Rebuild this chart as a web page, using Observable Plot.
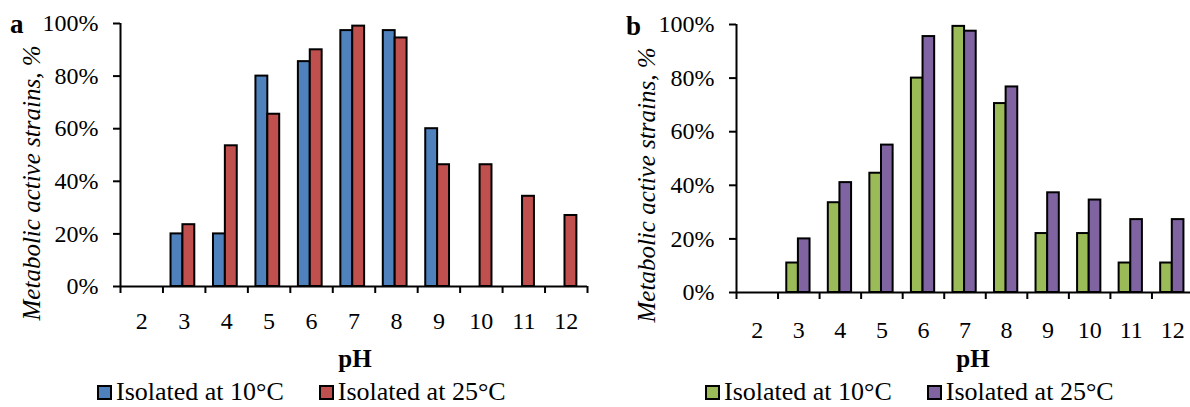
<!DOCTYPE html>
<html><head><meta charset="utf-8">
<script src="https://cdn.jsdelivr.net/npm/d3@7"></script>
<script src="https://cdn.jsdelivr.net/npm/@observablehq/plot@0.6"></script>
<style>
body{margin:0;width:1190px;height:407px;overflow:hidden;position:relative;background:#fff;font-family:"Liberation Serif","Times New Roman",serif;color:#000}
.abs{position:absolute;white-space:nowrap;line-height:1}
.panel{position:absolute;top:0}
.panel svg text{font-family:"Liberation Serif","Times New Roman",serif !important;font-size:24px !important;fill:#000}
.ytitle{font-style:italic;font-size:25px;transform:translate(-50%,-50%) rotate(-90deg)}
.tag{font-weight:bold;font-size:27px}
.xtitle{font-weight:bold;font-size:25px;transform:translateX(-50%)}
.legend{font-size:26px;display:flex;align-items:center}
.legend .item{display:flex;align-items:center;margin-right:35px}
.legend .sw{width:11px;height:11px;border:2px solid #000;margin-right:4px}
</style></head><body>
<script>
// Data
const pH = [2, 3, 4, 5, 6, 7, 8, 9, 10, 11, 12];
const yTicks = [0, 20, 40, 60, 80, 100];
const seriesNames = ["Isolated at 10°C", "Isolated at 25°C"];
const a10 = [0, 20, 20, 80, 85.5, 97.3, 97.3, 60, 0, 0, 0];
const a25 = [0, 23.5, 53.5, 65.5, 90, 99, 94.5, 46.3, 46.3, 34.3, 27];
const b10 = [0, 11, 33.5, 44.5, 80, 99.3, 70.5, 22, 22, 11, 11];
const b25 = [0, 20, 41, 55, 95.5, 97.5, 76.7, 37.2, 34.5, 27.2, 27.2];
const colorsA = ["#4F81BD", "#C0504D"];
const colorsB = ["#9BBB59", "#8064A2"];
const yTitle = "Metabolic active strains, %";
const xTitle = "pH";

function rows(vals) {
  return pH.map((p, i) => ({pH: p, v: vals[i]})).filter(d => d.v > 0);
}

function makePanel(o) {
  const div = document.createElement("div");
  div.className = "panel";
  div.style.left = o.left + "px";
  div.style.width = o.width + "px";
  const chart = Plot.plot({
    width: o.width, height: o.height,
    marginLeft: o.mL, marginRight: o.mR, marginTop: o.mT, marginBottom: o.mB,
    x: {domain: [1.5, 12.5], axis: null},
    y: {domain: [0, 100], axis: null},
    style: {fontFamily: '"Liberation Serif","Times New Roman",serif', fontSize: "24px", color: "black", background: "transparent", maxWidth: "none"},
    marks: [
      Plot.rect(rows(o.s1), {x1: d => d.pH + o.off - o.w, x2: d => d.pH + o.off, y1: 0, y2: "v", fill: o.colors[0], stroke: "black", strokeWidth: 2}),
      Plot.rect(rows(o.s2), {x1: d => d.pH + o.off, x2: d => d.pH + o.off + o.w, y1: 0, y2: "v", fill: o.colors[1], stroke: "black", strokeWidth: 2}),
      Plot.axisY({ticks: yTicks, tickFormat: d => d + "%", tickSize: 7, tickPadding: 15, strokeWidth: 2, fontSize: 24, label: null}),
      Plot.axisX({ticks: pH, tickSize: 0, tickPadding: o.xPad, fontSize: 24, label: null}),
      Plot.axisX({ticks: pH.map(p => p - 0.5).concat([12.5]), tickSize: 7, tickFormat: () => "", strokeWidth: 2, label: null}),
      Plot.ruleX([1.5], {strokeWidth: 2}),
      Plot.ruleY([0], {strokeWidth: 2})
    ]
  });
  div.appendChild(chart);
  document.body.appendChild(div);

  const tag = document.createElement("div");
  tag.className = "abs tag"; tag.textContent = o.tag;
  tag.style.left = o.tagX + "px"; tag.style.top = o.tagY + "px";
  document.body.appendChild(tag);

  const yt = document.createElement("div");
  yt.className = "abs ytitle"; yt.textContent = yTitle;
  yt.style.left = o.ytX + "px"; yt.style.top = o.ytY + "px";
  document.body.appendChild(yt);

  const xt = document.createElement("div");
  xt.className = "abs xtitle"; xt.textContent = xTitle;
  xt.style.left = o.xtX + "px"; xt.style.top = "346px";
  document.body.appendChild(xt);

  const lg = document.createElement("div");
  lg.className = "abs legend";
  lg.style.left = o.lgX + "px"; lg.style.top = "379px";
  seriesNames.forEach((n, i) => {
    const it = document.createElement("div"); it.className = "item";
    const sw = document.createElement("div"); sw.className = "sw"; sw.style.background = o.colors[i];
    const tx = document.createElement("span"); tx.textContent = n;
    it.appendChild(sw); it.appendChild(tx); lg.appendChild(it);
  });
  document.body.appendChild(lg);
}

makePanel({left: 0, width: 595, height: 370, mL: 120, mR: 8, mT: 23, mB: 84,
  s1: a10, s2: a25, colors: colorsA, w: 0.28, off: -0.03, xPad: 25,
  tag: "a", tagX: 10, tagY: 11, ytX: 31, ytY: 183, xtX: 355, lgX: 97});
makePanel({left: 600, width: 600, height: 370, mL: 136, mR: 7, mT: 24, mB: 78,
  s1: b10, s2: b25, colors: colorsB, w: 0.28, off: -0.01, xPad: 28,
  tag: "b", tagX: 626, tagY: 13, ytX: 646, ytY: 185, xtX: 973, lgX: 705});
</script>
</body></html>
